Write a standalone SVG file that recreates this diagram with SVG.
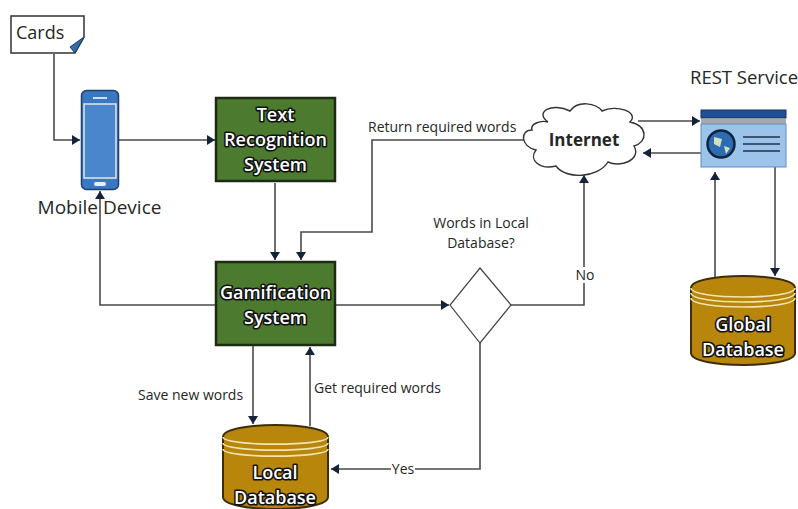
<svg xmlns="http://www.w3.org/2000/svg" width="798" height="509" viewBox="0 0 798 509">
<style>
text{font-family:"Open Sans","Noto Sans","Liberation Sans",sans-serif;fill:#262626}
.lbl{font-size:14px}
.in{font-size:18px;fill:#fff;stroke:#111;stroke-width:3.2px;paint-order:stroke;stroke-linejoin:round;text-anchor:middle;font-weight:600}
.c{text-anchor:middle}
.box{fill:#4c7a2e;stroke:#1d2b14;stroke-width:2.5}
.cyl{fill:#b8860b;stroke:#3f2c05;stroke-width:2}
.ring{fill:none;stroke:#f2e3b0;stroke-width:1.6}
.con{fill:none;stroke:#4a4a4a;stroke-width:1.6}
</style>
<defs>
<marker id="a" markerUnits="userSpaceOnUse" markerWidth="9" markerHeight="10" refX="8" refY="5" orient="auto"><path d="M0 0L8 5L0 10z" fill="#15233a"/></marker>
</defs>
<g id="connectors">
<path class="con" d="M54 54V140H80" marker-end="url(#a)"/>
<path class="con" d="M119 140H215" marker-end="url(#a)"/>
<path class="con" d="M275 183V260" marker-end="url(#a)"/>
<path class="con" d="M524 140H372V232H301V260" marker-end="url(#a)"/>
<path class="con" d="M216 305H100V191" marker-end="url(#a)"/>
<path class="con" d="M336 305H449" marker-end="url(#a)"/>
<path class="con" d="M511 305H584V175" marker-end="url(#a)"/>
<path class="con" d="M253 346V424" marker-end="url(#a)"/>
<path class="con" d="M310 426V347" marker-end="url(#a)"/>
<path class="con" d="M480 343V469H331" marker-end="url(#a)"/>
<path class="con" d="M638 121H700" marker-end="url(#a)"/>
<path class="con" d="M702 153H643" marker-end="url(#a)"/>
<path class="con" d="M715 277V172" marker-end="url(#a)"/>
<path class="con" d="M775 167V276" marker-end="url(#a)"/>
</g>
<g id="cards">
<path d="M11 16H84V37L75 53H11z" fill="#fff" stroke="#333" stroke-width="1.5"/>
<path d="M84 37L70 47L75 53z" fill="#2f6fb0" stroke="#17395f"/>
<text x="16" y="39" style="font-size:18px">Cards</text>
</g>
<g id="mobile">
<rect x="81.500" y="90.500" width="37" height="99" rx="5" fill="#3a78c2" stroke="#1c3f6e" stroke-width="1.5"/>
<rect x="84" y="104" width="32" height="74" fill="#4a86cc" stroke="#e6e6e6" stroke-width="1.5"/>
<rect x="93" y="97" width="14" height="2" fill="#cfe0f2"/>
<rect x="94" y="182" width="12" height="4" rx="2" fill="#e8f0fa"/>
<text class="c" x="99.500" y="214" style="font-size:19px">Mobile Device</text>
</g>
<g id="text-recognition">
<rect class="box" x="216" y="98" width="119" height="83"/>
<text class="in" x="275.500" y="121">Text</text>
<text class="in" x="275.500" y="146">Recognition</text>
<text class="in" x="275.500" y="171">System</text>
</g>
<g id="gamification">
<rect class="box" x="216" y="262" width="119" height="83"/>
<text class="in" x="275.500" y="299">Gamification</text>
<text class="in" x="275.500" y="324">System</text>
</g>
<g id="decision">
<path d="M480 268L511 305L480 343L450 305z" fill="#fff" stroke="#444" stroke-width="1.2"/>
<text class="lbl c" x="481" y="228">Words in Local</text>
<text class="lbl c" x="481" y="248">Database?</text>
</g>
<g id="internet">
<path d="M548 122C534 112 552 102 570 111C578 100 596 103 602 111C616 104 640 112 630 122C648 126 648 142 634 146C642 160 620 168 608 162C598 178 566 180 556 166C540 170 528 160 536 150C520 146 520 130 532 130C530 124 540 120 548 122z" fill="#fff" stroke="#333" stroke-width="1.4"/>
<text x="584" y="146" class="c" style="font-size:17px;font-weight:700">Internet</text>
</g>
<g id="rest-service">
<rect x="701" y="110" width="85" height="8" fill="#1f4f94" stroke="#15305c"/>
<rect x="701" y="119" width="85" height="5" fill="#a9a9a9"/>
<rect x="701" y="124" width="85" height="43" fill="#9cc3ea" stroke="#5d8ec4"/>
<circle cx="721" cy="144" r="13.500" fill="#2d6cb0" stroke="#10233f" stroke-width="2.500"/>
<path d="M714 137l8 2l-2 8l-6-3zM724 146l6 2l-4 6z" fill="#cfe0c4"/>
<path d="M743 137H780M743 144H780M743 151H780" stroke="#23324a" stroke-width="1.500"/>
<text x="690" y="84" style="font-size:18.500px">REST Service</text>
</g>
<g id="local-db">
<path class="cyl" d="M223 437C223 421 328 421 328 437V497C328 513 223 513 223 497z"/>
<path class="ring" d="M223 437C223 446.500 328 446.500 328 437M223 443C223 452.500 328 452.500 328 443M223 449C223 458.500 328 458.500 328 449"/>
<text class="in" x="275" y="479">Local</text>
<text class="in" x="275" y="504">Database</text>
</g>
<g id="global-db">
<path class="cyl" d="M691 288C691 272 795 272 795 288V353C795 369 691 369 691 353z"/>
<path class="ring" d="M691 288C691 300 795 300 795 288M691 293C691 305 795 305 795 293M691 298C691 310 795 310 795 298"/>
<text class="in" x="743" y="331">Global</text>
<text class="in" x="743" y="356">Database</text>
</g>
<g id="labels">
<text class="lbl" x="368" y="132">Return required words</text>
<rect x="575" y="267" width="20" height="16" fill="#fff"/>
<text class="lbl c" x="585" y="280">No</text>
<text class="lbl" x="138" y="400">Save new words</text>
<text class="lbl" x="314" y="393">Get required words</text>
<rect x="391" y="461" width="24" height="16" fill="#fff"/>
<text class="lbl c" x="403" y="474">Yes</text>
</g>
</svg>
